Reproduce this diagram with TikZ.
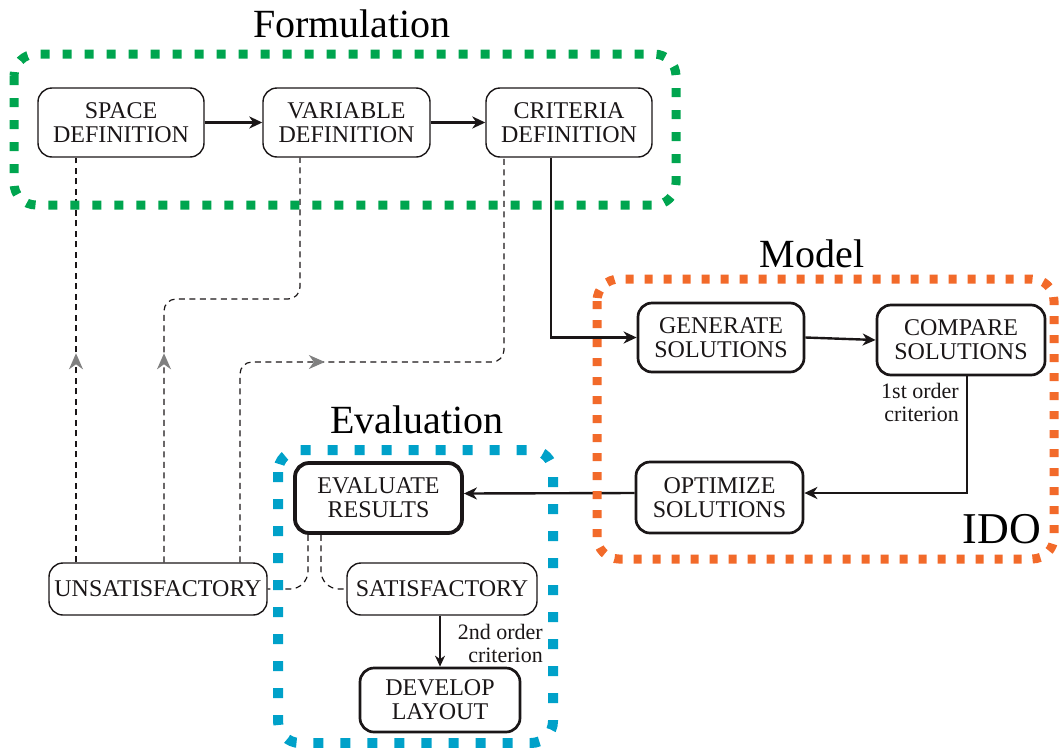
\documentclass[tikz,border=0pt]{standalone}
\usepackage{fontspec}
\setmainfont{Liberation Serif}
\usetikzlibrary{arrows.meta,decorations.markings}
\definecolor{ink}{HTML}{1A1617}
\definecolor{headgray}{HTML}{808080}
\definecolor{fgreen}{HTML}{00A54F}
\definecolor{forange}{HTML}{F26A2A}
\definecolor{fblue}{HTML}{00A1C9}
\begin{document}
\begin{tikzpicture}[x=1pt,y=-1pt,
  box/.style={draw=ink, text=ink, rounded corners=14pt, line width=1.4pt,
    align=center, inner sep=1pt, font=\fontsize{24}{24}\selectfont},
  heavy/.style={line width=2.7pt},
  heaviest/.style={line width=3.8pt},
  flow/.style={draw=ink, line width=2.4pt, -{Stealth[length=13pt,width=12pt,inset=4pt]}},
  thinflow/.style={draw=ink, line width=1.3pt, -{Stealth[length=11pt,width=10pt,inset=3.5pt]}},
  dashlink/.style={draw=ink, line width=1.2pt, dash pattern=on 6pt off 4.5pt, rounded corners=#1},
  dashlink/.default=12pt,
  headat/.style={postaction=decorate, decoration={markings,
    mark=at position #1 with {\arrow{Stealth[length=16pt,width=14pt,inset=5pt,color=headgray]}}}},
  frame/.style={line width=9pt, rounded corners=22pt, line cap=butt},
  title/.style={text=black, inner sep=0pt, anchor=base, font=\fontsize{40}{40}\selectfont},
  note/.style={text=ink, align=right, inner sep=0pt, anchor=north east, font=\fontsize{22}{23}\selectfont}]
\useasboundingbox (0,0) rectangle (1059,747);

% Formulation stage
\node[box, minimum width=166pt, minimum height=69pt] (space) at (121,122.5) {SPACE\\DEFINITION};
\node[box, minimum width=167pt, minimum height=69pt] (var) at (346.5,122.5) {VARIABLE\\DEFINITION};
\node[box, minimum width=166pt, minimum height=69pt] (crit) at (569,122.5) {CRITERIA\\DEFINITION};

% Model stage
\node[box, heavy, minimum width=166pt, minimum height=69pt] (gen) at (721,337.5) {GENERATE\\SOLUTIONS};
\node[box, heavy, minimum width=168pt, minimum height=70pt] (cmp) at (961,340) {COMPARE\\SOLUTIONS};
\node[box, heavy, minimum width=167pt, minimum height=71pt] (opt) at (719.5,497.5) {OPTIMIZE\\SOLUTIONS};

% Evaluation stage
\node[box, heaviest, minimum width=167pt, minimum height=70pt] (eval) at (378.5,498) {EVALUATE\\RESULTS};
\node[box, minimum width=190pt, minimum height=52pt] (sat) at (442,589) {SATISFACTORY};
\node[box, minimum width=218pt, minimum height=52pt] (unsat) at (158,589) {UNSATISFACTORY};
\node[box, heavy, minimum width=160pt, minimum height=64pt] (dev) at (440,700) {DEVELOP\\LAYOUT};

% main flow
\draw[flow] (space.east) -- (var.west);
\draw[flow] (var.east) -- (crit.west);
\draw[flow, sharp corners] ([xshift=-18pt]crit.south) |- (gen.west);
\draw[flow] (gen.east) -- (cmp.west);
\draw[flow] ([xshift=6pt]cmp.south) |- ([yshift=4.5pt]opt.east);
\draw[flow] ([yshift=4.5pt]opt.west) -- ([yshift=4.5pt]eval.east);
\draw[thinflow] ([xshift=-2pt]sat.south) -- ([xshift=0pt]dev.north);

% criteria labels
\node[note] (first) at (959,383) {1st order\\criterion};
\node[note] (second) at (543,624) {2nd order\\criterion};

% outcomes of the evaluation
\draw[dashlink=18pt] ([xshift=-70.5pt]eval.south) |- (unsat.east);
\draw[dashlink=18pt] ([xshift=-57.5pt]eval.south) |- (sat.west);

% feedback from an unsatisfactory result
\draw[dashlink, headat=209pt] ([xshift=-82pt]unsat.north) -- ([xshift=-45pt]space.south);
\draw[dashlink, headat=209pt] ([xshift=6pt]unsat.north) |- (300,299) -- ([xshift=-46.5pt]var.south);
\draw[dashlink, headat=280pt] ([xshift=82pt]unsat.north) |- (504,362) -- ([xshift=-65pt]crit.south);

% stage frames
\draw[frame, draw=fgreen, dash pattern=on 9pt off 13pt] (14,54) rectangle (676,205);
\draw[frame, draw=forange, dash pattern=on 8pt off 11pt] (597,279) rectangle (1054,559);
\draw[frame, draw=fblue, line width=10pt, dash pattern=on 10pt off 17pt] (278,450) rectangle (553,743);

% stage titles
\node[title] (tform) at (352,37) {Formulation};
\node[title] (tmodel) at (812,267) {Model};
\node[title] (teval) at (417,433) {Evaluation};
\node[title, font=\fontsize{44}{44}\selectfont] (tido) at (1002,543) {IDO};
\end{tikzpicture}
\end{document}
